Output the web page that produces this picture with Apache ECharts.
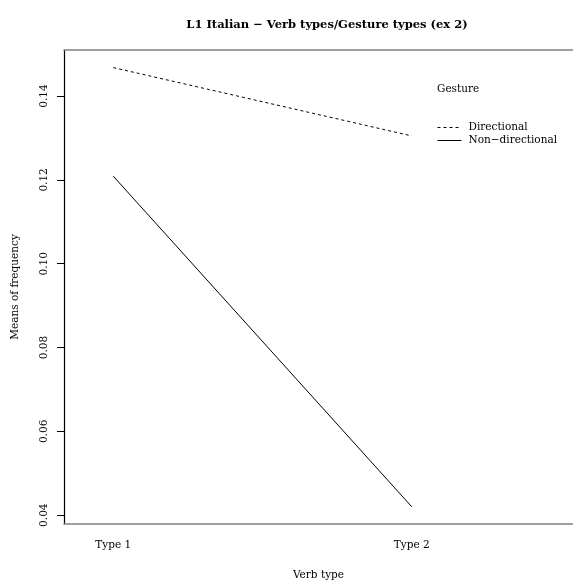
<!DOCTYPE html>
<html>
<head>
<meta charset="utf-8">
<script src="https://cdn.jsdelivr.net/npm/echarts@6/dist/echarts.min.js"></script>
<style>
  html, body { margin: 0; padding: 0; background: #fff; }
  #chart { width: 573px; height: 581px; }
</style>
</head>
<body>
<div id="chart"></div>
<script>
// Interaction plot: mean frequency by verb type, one line per gesture type
const verbTypes = ['Type 1', 'Type 2'];
const verbPositions = [1, 2];
const gestureNames = ['Directional', 'Non\u2212directional'];
const directional = [0.1468, 0.1305];
const nonDirectional = [0.1209, 0.0420];
const yTicks = [0.04, 0.06, 0.08, 0.10, 0.12, 0.14];

const FONT = '"DejaVu Serif", "Liberation Serif", serif';
const SIZE = 10.5;

const chart = echarts.init(document.getElementById('chart'), null, { renderer: 'canvas' });

function pairs(values) {
  return verbPositions.map((x, i) => [x, values[i]]);
}

chart.setOption({
  animation: false,
  backgroundColor: '#ffffff',
  title: {
    text: 'L1 Italian \u2212 Verb types/Gesture types (ex 2)',
    left: 322,
    top: 14,
    textAlign: 'center',
    textStyle: { fontFamily: FONT, fontSize: 11.5, fontWeight: 'bold', color: '#000' }
  },
  grid: { left: 64, right: 0, top: 50, bottom: 57, containLabel: false, outerBoundsMode: 'none' },
  legend: {
    orient: 'vertical',
    left: 437,
    top: 122,
    itemWidth: 24,
    itemHeight: 8,
    itemGap: 2,
    padding: 0,
    data: gestureNames,
    itemStyle: { opacity: 0 },
    lineStyle: { width: 1 },
    textStyle: { fontFamily: FONT, fontSize: SIZE, color: '#000', padding: [0, 0, 0, 2] }
  },
  graphic: [{
    type: 'text',
    left: 437,
    top: 84,
    style: { text: 'Gesture', fontFamily: FONT, fontSize: SIZE, fill: '#000' }
  }],
  xAxis: [{
    type: 'value',
    min: 0.835,
    max: 2.54,
    position: 'bottom',
    name: 'Verb type',
    nameLocation: 'middle',
    nameGap: 46,
    nameTextStyle: { fontFamily: FONT, fontSize: SIZE, color: '#000' },
    splitLine: { show: false },
    axisLine: { show: true, lineStyle: { color: '#808080', width: 1.5 } },
    axisTick: { show: false },
    axisLabel: {
      customValues: verbPositions,
      margin: 16,
      fontFamily: FONT,
      fontSize: SIZE,
      color: '#000',
      formatter: v => verbTypes[verbPositions.indexOf(Math.round(v))] || ''
    }
  }, {
    type: 'value',
    min: 0.835,
    max: 2.54,
    position: 'top',
    splitLine: { show: false },
    axisLine: { show: true, lineStyle: { color: '#808080', width: 1.5 } },
    axisTick: { show: false },
    axisLabel: { show: false }
  }],
  yAxis: {
    type: 'value',
    min: 0.0379,
    max: 0.1510,
    name: 'Means of frequency',
    nameLocation: 'middle',
    nameRotate: 90,
    nameGap: 43,
    nameTextStyle: { fontFamily: FONT, fontSize: SIZE, color: '#000' },
    splitLine: { show: false },
    axisLine: { show: true, lineStyle: { color: '#000', width: 1.2 } },
    axisTick: { show: true, customValues: yTicks, length: 7, lineStyle: { color: '#000', width: 1 } },
    axisLabel: {
      customValues: yTicks,
      rotate: 90,
      margin: 14,
      align: 'center',
      verticalAlign: 'bottom',
      fontFamily: FONT,
      fontSize: SIZE,
      color: '#000',
      formatter: v => v.toFixed(2)
    }
  },
  series: [{
    name: gestureNames[0],
    type: 'line',
    data: pairs(directional),
    symbol: 'none',
    lineStyle: { color: '#000', width: 1, type: [3, 3] },
    itemStyle: { color: '#000' }
  }, {
    name: gestureNames[1],
    type: 'line',
    data: pairs(nonDirectional),
    symbol: 'none',
    lineStyle: { color: '#000', width: 1, type: 'solid' },
    itemStyle: { color: '#000' }
  }]
});
</script>
</body>
</html>
